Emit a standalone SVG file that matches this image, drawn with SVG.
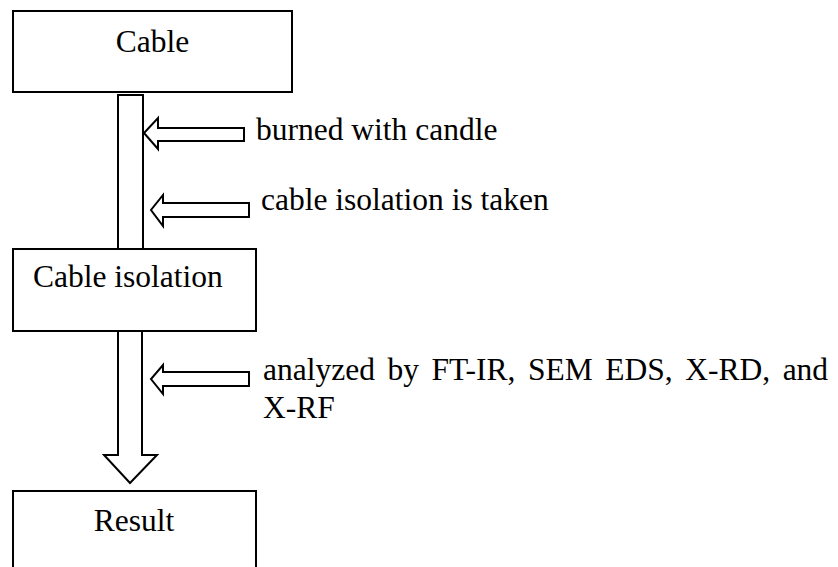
<svg xmlns="http://www.w3.org/2000/svg" width="838" height="567" viewBox="0 0 838 567">
<style>
.box{fill:#fff;stroke:#000;stroke-width:2}
.arr{fill:#fff;stroke:#000;stroke-width:2;stroke-linejoin:miter}
.t{font-family:"Liberation Serif","Times New Roman",serif;font-size:31.5px;fill:#000}
</style>
<rect width="838" height="567" fill="#fff"/>
<g id="connectors">
<path class="arr" d="M118,95 H143 V252 H118 Z"/>
<path class="arr" d="M118,330 H142 V455 H157 L130,483 L104,455 H118 Z"/>
<path class="arr" d="M244,128 V141 H158 V149 L144,133 L158,118 V128 Z"/>
<path class="arr" d="M249,203 V217 H163 V226 L151,210 L163,195 V203 Z"/>
<path class="arr" d="M249,372 V386 H163 V394 L151,379 L163,365 V372 Z"/>
<text class="t" x="256" y="140">burned with candle</text>
<text class="t" x="261" y="210">cable isolation is taken</text>
<text class="t" x="263" y="380" word-spacing="4.7">analyzed by FT-IR, SEM EDS, X-RD, and</text>
<text class="t" x="263" y="418">X-RF</text>
</g>
<g id="cable">
<rect class="box" x="13" y="11" width="279" height="81"/>
<text class="t" x="152.5" y="52" text-anchor="middle">Cable</text>
</g>
<g id="cable-isolation">
<rect class="box" x="13" y="249" width="243" height="82"/>
<text class="t" x="33" y="287">Cable isolation</text>
</g>
<g id="result">
<rect class="box" x="13" y="491" width="243" height="90"/>
<text class="t" x="134" y="531" text-anchor="middle">Result</text>
</g>
</svg>
